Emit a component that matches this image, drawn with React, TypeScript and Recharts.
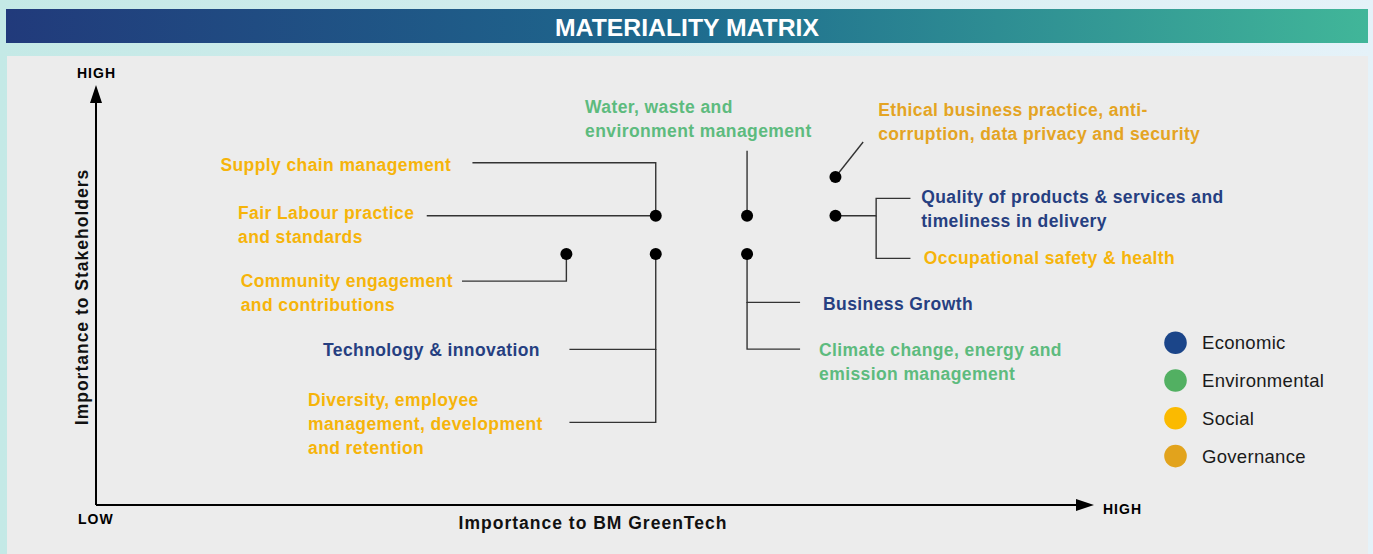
import React from 'react';
import { ScatterChart, Scatter, XAxis, YAxis, ReferenceDot, ReferenceLine } from 'recharts';

// ---------- data ----------
const categories = ['Economic', 'Environmental', 'Social', 'Governance'];
const categoryColors = ['#1b4589', '#52b062', '#fbba00', '#e2a31c'];
const categoryTextColors = ['#263f81', '#5dbb7e', '#f6b40a', '#e4a423'];

const topicNames = [
  'Supply chain management',
  'Fair Labour practice and standards',
  'Water, waste and environment management',
  'Ethical business practice, anti-corruption, data privacy and security',
  'Quality of products & services and timeliness in delivery',
  'Occupational safety & health',
  'Community engagement and contributions',
  'Technology & innovation',
  'Diversity, employee management, development and retention',
  'Business Growth',
  'Climate change, energy and emission management',
];
const topicLabelLines = [
  ['Supply chain management'],
  ['Fair Labour practice', 'and standards'],
  ['Water, waste and', 'environment management'],
  ['Ethical business practice, anti-', 'corruption, data privacy and security'],
  ['Quality of products & services and', 'timeliness in delivery'],
  ['Occupational safety & health'],
  ['Community engagement', 'and contributions'],
  ['Technology & innovation'],
  ['Diversity, employee', 'management, development', 'and retention'],
  ['Business Growth'],
  ['Climate change, energy and', 'emission management'],
];
const topicCategory = [
  'Social', 'Social', 'Environmental', 'Governance', 'Economic', 'Social',
  'Social', 'Economic', 'Social', 'Economic', 'Environmental',
];
const importanceToCompany = [57, 57, 66.3, 75.3, 75.3, 75.3, 47.9, 57, 57, 66.3, 66.3];
const importanceToStakeholders = [71.6, 71.6, 71.6, 81.2, 71.6, 71.6, 62.1, 62.1, 62.1, 62.1, 62.1];

const axisTitleX = 'Importance to BM GreenTech';
const axisTitleY = 'Importance to Stakeholders';
const axisLow = 'LOW';
const axisHigh = 'HIGH';
const chartTitle = 'MATERIALITY MATRIX';

// ---------- layout (pixel offsets of labels / leader lines relative to each dot) ----------
const LAYOUT: { lx: number; ly: number; leader: number[][] }[] = [
  { lx: -435.3, ly: -44.7, leader: [[-183.3, -53], [0, -53], [0, 0]] },
  { lx: -417.7, ly: 3.6, leader: [[-229, 0], [0, 0]] },
  { lx: -162, ly: -103, leader: [[0, -65], [0, 0]] },
  { lx: 42.7, ly: -60.6, leader: [[0, 0], [27.7, -35]] },
  { lx: 85.7, ly: -12.4, leader: [[0, 0], [40.7, 0], [40.7, -17.4], [75, -17.4]] },
  { lx: 88.3, ly: 48.3, leader: [[40.7, 0], [40.7, 42.6], [75, 42.6]] },
  { lx: -325.7, ly: 32.7, leader: [[-104.4, 27], [0, 27], [0, 0]] },
  { lx: -332.7, ly: 102, leader: [[0, 0], [0, 95.3], [-86.3, 95.3]] },
  { lx: -347.7, ly: 152, leader: [[0, 95], [0, 168.3], [-86.3, 168.3]] },
  { lx: 76, ly: 56, leader: [[0, 0], [0, 48.3], [53, 48.3]] },
  { lx: 72, ly: 102, leader: [[0, 48], [0, 95], [53, 95]] },
];

const W = 1373;
const H = 554;
const FONT = '"Liberation Sans", Arial, Helvetica, sans-serif';

// build unique dots with the topics attached to them
type Pt = { x: number; y: number; topics: number[] };
const points: Pt[] = [];
topicNames.forEach((_, i) => {
  const x = importanceToCompany[i];
  const y = importanceToStakeholders[i];
  const ex = points.find((p) => p.x === x && p.y === y);
  if (ex) ex.topics.push(i);
  else points.push({ x, y, topics: [i] });
});

const colorOf = (cat: string) => categoryTextColors[categories.indexOf(cat)];

const DotShape = (props: any) => {
  const { cx, cy, payload } = props;
  if (cx == null || cy == null) return null;
  const topics: number[] = payload.topics;
  return (
    <g>
      {topics.map((t) => (
        <polyline
          key={'l' + t}
          points={LAYOUT[t].leader.map(([dx, dy]) => `${cx + dx},${cy + dy}`).join(' ')}
          fill="none"
          stroke="#333"
          strokeWidth={1.4}
        />
      ))}
      <circle cx={cx} cy={cy} r={6} fill="#000" />
      {topics.map((t) => {
        const x = cx + LAYOUT[t].lx;
        const y = cy + LAYOUT[t].ly;
        return (
          <text
            key={'t' + t}
            x={x}
            y={y}
            fill={colorOf(topicCategory[t])}
            fontFamily={FONT}
            fontWeight="bold"
            fontSize={17.5}
            letterSpacing={0.4}
          >
            {topicLabelLines[t].map((line, k) => (
              <tspan key={k} x={x} dy={k === 0 ? 0 : 24}>
                {line}
              </tspan>
            ))}
          </text>
        );
      })}
    </g>
  );
};

const ArrowRight = (props: any) => {
  const { cx, cy } = props;
  if (cx == null) return null;
  return <polygon points={`${cx - 2},${cy - 6} ${cx + 16},${cy} ${cx - 2},${cy + 6}`} fill="#000" />;
};
const ArrowUp = (props: any) => {
  const { cx, cy } = props;
  if (cx == null) return null;
  return <polygon points={`${cx - 6},${cy + 2} ${cx},${cy - 16} ${cx + 6},${cy + 2}`} fill="#000" />;
};

const Background = () => (
  <svg width={W} height={H} style={{ position: 'absolute', left: 0, top: 0 }}>
    <defs>
      <linearGradient id="pageBg" x1="0" y1="0" x2="1" y2="0">
        <stop offset="0" stopColor="#c4e9e6" />
        <stop offset="1" stopColor="#e5f2f9" />
      </linearGradient>
      <linearGradient id="titleBg" x1="0" y1="0" x2="1" y2="0">
        <stop offset="0" stopColor="#213a7b" />
        <stop offset="0.5" stopColor="#1e6b8e" />
        <stop offset="1" stopColor="#41b699" />
      </linearGradient>
    </defs>
    <rect x={0} y={0} width={W} height={H} fill="url(#pageBg)" />
    <rect x={6} y={9} width={1362} height={34} fill="url(#titleBg)" />
    <text
      x={687}
      y={35.5}
      textAnchor="middle"
      fill="#fff"
      fontFamily={FONT}
      fontWeight="bold"
      fontSize={24.5}
      textLength={264}
      lengthAdjust="spacingAndGlyphs"
    >
      {chartTitle}
    </text>
    <rect x={7} y={56} width={1361} height={498} fill="#ececec" />

    {/* axis end labels */}
    <text x={77} y={77.5} fontFamily={FONT} fontWeight="bold" fontSize={14} letterSpacing={1} fill="#000">
      {axisHigh}
    </text>
    <text x={78} y={524} fontFamily={FONT} fontWeight="bold" fontSize={14} letterSpacing={1} fill="#000">
      {axisLow}
    </text>
    <text x={1103} y={513.5} fontFamily={FONT} fontWeight="bold" fontSize={14} letterSpacing={1} fill="#000">
      {axisHigh}
    </text>
    <text
      x={593}
      y={529}
      textAnchor="middle"
      fontFamily={FONT}
      fontWeight="bold"
      fontSize={17.5}
      letterSpacing={1}
      fill="#111"
    >
      {axisTitleX}
    </text>
    <text
      x={88}
      y={297}
      textAnchor="middle"
      transform="rotate(-90 88 297)"
      fontFamily={FONT}
      fontWeight="bold"
      fontSize={17.5}
      letterSpacing={1}
      fill="#111"
    >
      {axisTitleY}
    </text>

    {/* legend */}
    {categories.map((c, i) => (
      <g key={c}>
        <circle cx={1175.5} cy={342.7 + i * 37.8} r={11.3} fill={categoryColors[i]} />
        <text
          x={1202}
          y={349.3 + i * 37.8}
          fontFamily={FONT}
          fontSize={18.5}
          letterSpacing={0.3}
          fill="#1a1a1a"
        >
          {c}
        </text>
      </g>
    ))}
  </svg>
);

export default function App() {
  return (
    <div style={{ position: 'absolute', left: 0, top: 0, width: W, height: H, overflow: 'hidden' }}>
      <Background />
      <div style={{ position: 'absolute', left: 0, top: 0 }}>
        <ScatterChart width={W} height={H} margin={{ top: 101, right: W - 1078, bottom: H - 505, left: 96 }}>
          <XAxis type="number" dataKey="x" domain={[0, 100]} hide />
          <YAxis type="number" dataKey="y" domain={[0, 100]} hide />
          <ReferenceLine y={0} stroke="#000" strokeWidth={2} ifOverflow="visible" />
          <ReferenceLine x={0} stroke="#000" strokeWidth={2} ifOverflow="visible" />
          <ReferenceDot x={100} y={0} r={0} shape={ArrowRight} ifOverflow="visible" />
          <ReferenceDot x={0} y={100} r={0} shape={ArrowUp} ifOverflow="visible" />
          <Scatter data={points} shape={DotShape} isAnimationActive={false} />
        </ScatterChart>
      </div>
    </div>
  );
}
